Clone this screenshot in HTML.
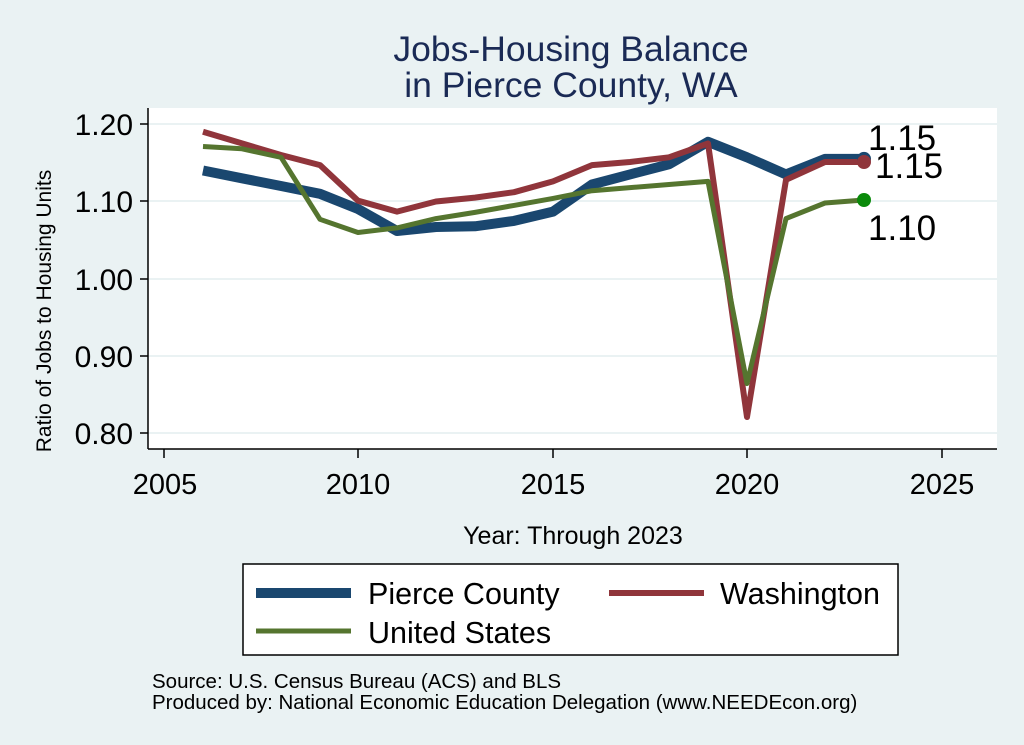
<!DOCTYPE html>
<html><head><meta charset="utf-8"><style>
html,body{margin:0;padding:0;background:#eaf2f3;}
svg{display:block;font-family:"Liberation Sans",Arial,sans-serif;}
</style></head><body>
<svg width="1024" height="745" viewBox="0 0 1024 745" xmlns="http://www.w3.org/2000/svg">
<rect width="1024" height="745" fill="#eaf2f3"/>
<text x="571" y="61" font-size="35.5" fill="#1a2a55" text-anchor="middle">Jobs-Housing Balance</text>
<text x="571" y="97" font-size="35.5" fill="#1a2a55" text-anchor="middle">in Pierce County, WA</text>
<rect x="148" y="108" width="849" height="341" fill="#fff"/>
<g stroke="#eaf2f3" stroke-width="2">
<line x1="148" x2="997" y1="124" y2="124"/><line x1="148" x2="997" y1="201" y2="201"/>
<line x1="148" x2="997" y1="279" y2="279"/><line x1="148" x2="997" y1="356" y2="356"/>
<line x1="148" x2="997" y1="433" y2="433"/>
</g>
<g stroke="#000" stroke-width="1.5">
<line x1="148" x2="148" y1="108" y2="449"/><line x1="148" x2="997" y1="449" y2="449"/>
<line x1="140" x2="148" y1="124" y2="124"/><line x1="140" x2="148" y1="201" y2="201"/>
<line x1="140" x2="148" y1="279" y2="279"/><line x1="140" x2="148" y1="356" y2="356"/>
<line x1="140" x2="148" y1="433" y2="433"/>
<line x1="164" x2="164" y1="449" y2="458"/><line x1="358" x2="358" y1="449" y2="458"/>
<line x1="553" x2="553" y1="449" y2="458"/><line x1="747" x2="747" y1="449" y2="458"/>
<line x1="942" x2="942" y1="449" y2="458"/>
</g>
<g font-size="30" fill="#000" text-anchor="end">
<text x="133" y="135">1.20</text><text x="133" y="212">1.10</text><text x="133" y="290">1.00</text>
<text x="133" y="367">0.90</text><text x="133" y="444">0.80</text>
</g>
<g font-size="29" fill="#000" text-anchor="middle">
<text x="165" y="494">2005</text><text x="358" y="494">2010</text><text x="553" y="494">2015</text>
<text x="747" y="494">2020</text><text x="942" y="494">2025</text>
</g>
<text transform="translate(51,311) rotate(-90)" font-size="21" text-anchor="middle">Ratio of Jobs to Housing Units</text>
<text x="573" y="544" font-size="25" text-anchor="middle">Year: Through 2023</text>
<g fill="none" stroke-linejoin="round">
<polyline stroke="#1a476f" stroke-width="10" points="203,170.5 242,178.3 281,186 320,193.8 358,209 397,231 436,227 475,226.3 514,220.9 553,211.6 592,184.5 630,174.4 669,164.3 708,141.8 747,157.3 786,174.4 825,158.9 864,158.9"/>
<polyline stroke="#90353b" stroke-width="6" points="203,131.8 242,143.4 281,155 320,165.1 358,200.7 397,211.6 436,201.5 475,197.6 514,192.2 553,181.4 592,165.1 630,162 669,157.3 708,143.4 747,417 786,179.8 825,162 864,162"/>
<polyline stroke="#55752f" stroke-width="5" points="203,146.5 242,148.8 281,157.3 320,219.3 358,232.5 397,227.9 436,218.6 475,212.4 514,205.4 553,198.4 592,190.7 630,187.6 669,184.5 708,181.4 747,383.6 786,218.6 825,203 864,200"/>
</g>
<circle cx="864" cy="158.9" r="7" fill="#1a476f"/>
<circle cx="864" cy="162" r="7" fill="#90353b"/>
<circle cx="864" cy="200" r="7" fill="#0a8a0a"/>
<g font-size="35" fill="#000">
<text x="868" y="150">1.15</text><text x="875" y="178">1.15</text><text x="868" y="240">1.10</text>
</g>
<rect x="243" y="564" width="655" height="91" fill="#fff" stroke="#000" stroke-width="1.5"/>
<line x1="256" x2="351" y1="593" y2="593" stroke="#1a476f" stroke-width="10"/>
<line x1="609" x2="704" y1="593" y2="593" stroke="#90353b" stroke-width="6"/>
<line x1="256" x2="351" y1="631" y2="631" stroke="#55752f" stroke-width="5"/>
<g font-size="30.5" fill="#000">
<text x="368" y="604">Pierce County</text><text x="720" y="604">Washington</text><text x="368" y="643">United States</text>
</g>
<g font-size="20.5" fill="#000">
<text x="152" y="688">Source: U.S. Census Bureau (ACS) and BLS</text>
<text x="152" y="709">Produced by: National Economic Education Delegation (www.NEEDEcon.org)</text>
</g>
</svg>
</body></html>
